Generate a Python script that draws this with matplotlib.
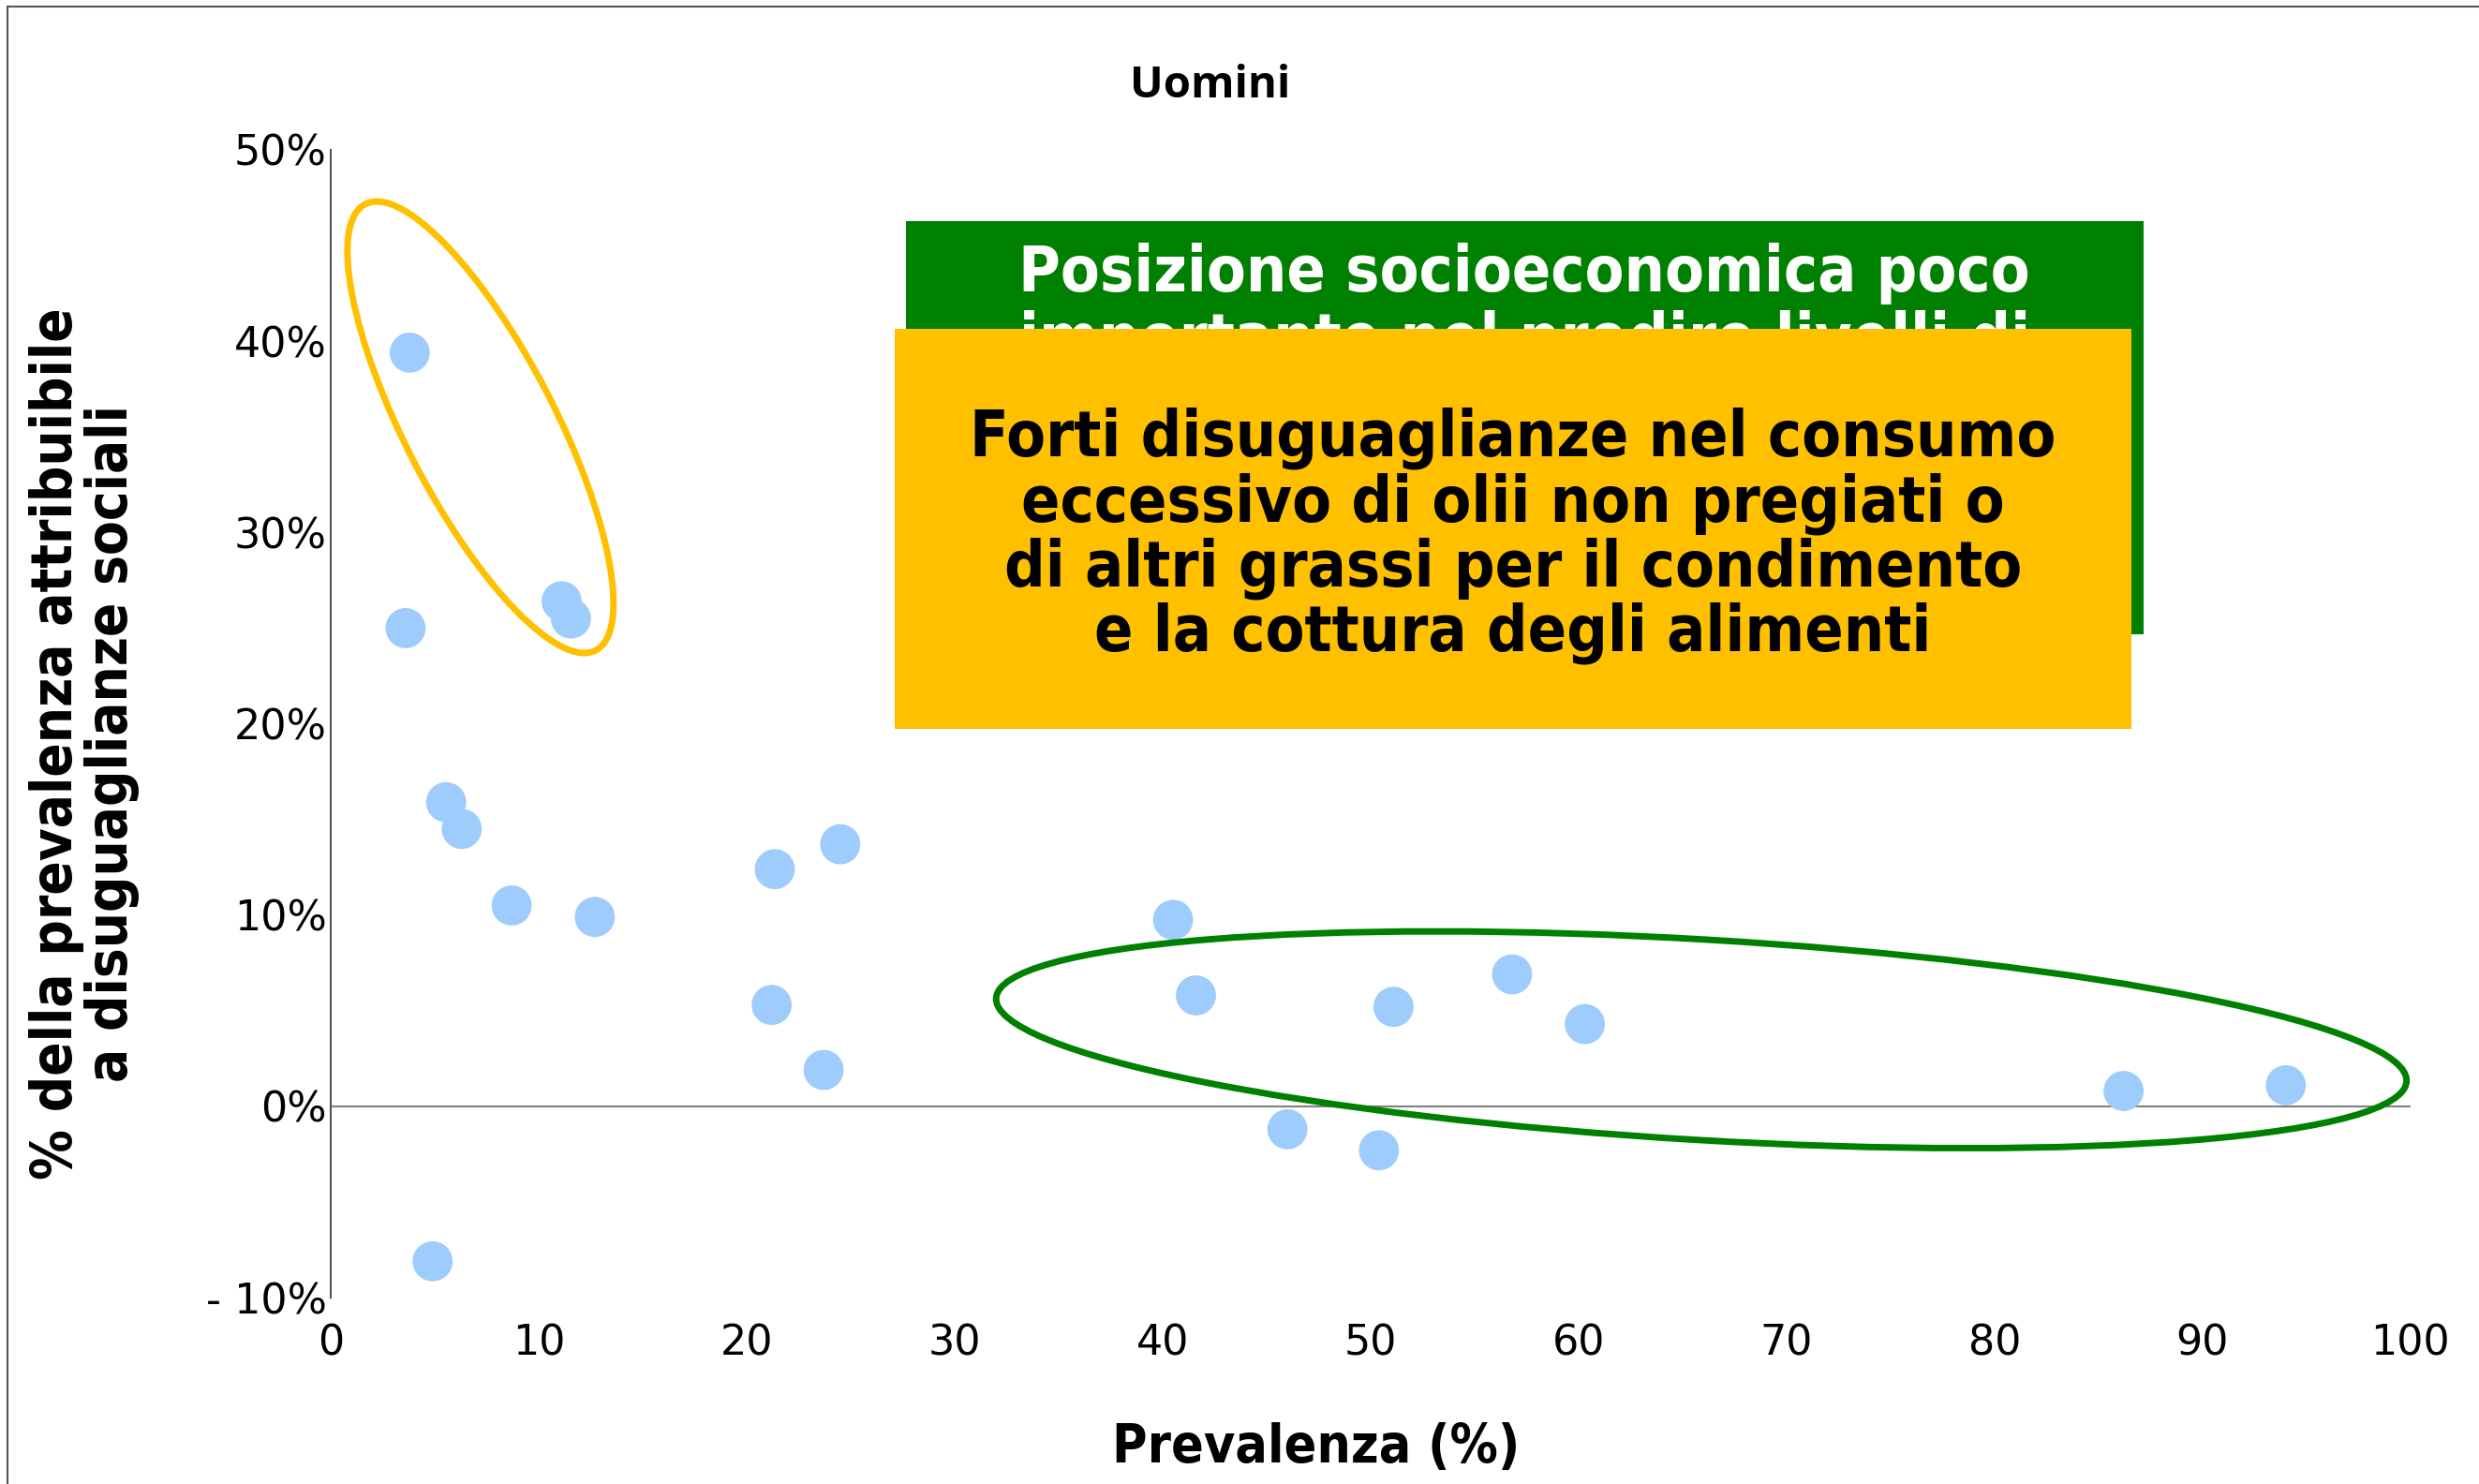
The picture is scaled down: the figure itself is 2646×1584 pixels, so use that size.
import numpy as np
import matplotlib
matplotlib.use("Agg")
import matplotlib.pyplot as plt
import matplotlib.transforms as mtransforms
from matplotlib.patches import Ellipse, Rectangle
from matplotlib.ticker import FuncFormatter

# prevalence (%) vs share of prevalence attributable to social inequality (%)
prevalenza = [3.8, 3.6, 11.1, 11.55, 5.55, 6.3, 8.7, 12.7, 4.9,
              21.35, 24.5, 21.2, 23.7, 40.5, 41.6, 51.1, 56.8, 60.3,
              46.0, 50.4, 86.2, 94.0]
quota_disug = [39.4, 25.0, 26.4, 25.5, 15.9, 14.5, 10.5, 9.9, -8.1,
               12.4, 13.7, 5.3, 1.9, 9.75, 5.8, 5.2, 6.9, 4.3,
               -1.2, -2.3, 0.8, 1.1]

x_ticks = [0, 10, 20, 30, 40, 50, 60, 70, 80, 90, 100]
y_ticks = [-10, 0, 10, 20, 30, 40, 50]

titolo = "Uomini"
xlab = "Prevalenza (%)"
ylab = "% della prevalenza attribuibile\na disuguaglianze sociali"
testo_verde = "Posizione socioeconomica poco\nimportante nel predire livelli di"
testo_giallo = ("Forti disuguaglianze nel consumo\n"
                "eccessivo di olii non pregiati o\n"
                "di altri grassi per il condimento\n"
                "e la cottura degli alimenti")

VERDE = "#008000"
GIALLO = "#FFC000"
PUNTI = "#9ECCFC"
cond = dict(family="DejaVu Sans", fontstretch="condensed", fontweight="bold")

fig = plt.figure(figsize=(26.46, 15.84), dpi=100)
ax = fig.add_axes([0.1334, 0.1256, 0.8390, 0.7734])

ax.scatter(prevalenza, quota_disug, s=950, color=PUNTI, edgecolors="none", zorder=3)
ax.axhline(0, color="#808080", lw=1.5, zorder=1)

ax.set_xlim(0, 100)
ax.set_ylim(-10, 50)
ax.set_xticks(x_ticks)
ax.set_yticks(y_ticks)
ax.yaxis.set_major_formatter(FuncFormatter(
    lambda v, p: f"- {abs(v):.0f}%" if v < 0 else f"{v:.0f}%"))
ax.tick_params(axis="x", length=0, pad=20, labelsize=32)
ax.tick_params(axis="y", length=0, pad=3, labelsize=32)
for s in ["top", "right", "bottom"]:
    ax.spines[s].set_visible(False)
ax.spines["left"].set_color("#555555")
ax.spines["left"].set_linewidth(1.5)

# ellipses sized in pixels, anchored at a data point
def cerchio(cx, cy, w, h, ang, col):
    tr = mtransforms.Affine2D() + mtransforms.ScaledTranslation(cx, cy, ax.transData)
    e = Ellipse((0, 0), w, h, angle=ang, transform=tr, fill=False,
                edgecolor=col, lw=5, clip_on=False, zorder=4)
    ax.add_patch(e)

cerchio(7.2, 35.5, 536, 160, -62.7, GIALLO)
cerchio(65.9, 3.48, 1508, 214, -3.38, VERDE)

# annotation boxes
fig.patches.append(Rectangle((0.3655, 0.5726), 0.4992, 0.2784, transform=fig.transFigure,
                             facecolor=VERDE, edgecolor="none", zorder=5))
fig.text(0.615, 0.793, testo_verde, color="white", fontsize=49, ha="center", va="center",
         linespacing=1.12, zorder=6, **cond)
fig.patches.append(Rectangle((0.3609, 0.5088), 0.4989, 0.2696, transform=fig.transFigure,
                             facecolor=GIALLO, edgecolor="none", zorder=7))
fig.text(0.6104, 0.639, testo_giallo, color="black", fontsize=49, ha="center", va="center",
         linespacing=1.05, zorder=8, **cond)

fig.text(0.488, 0.942, titolo, fontsize=34, fontweight="bold", family="Open Sans",
         ha="center", va="center")
fig.text(0.531, 0.024, xlab, fontsize=41, ha="center", va="center", **cond)
fig.text(0.034, 0.499, ylab, fontsize=43, rotation=90, ha="center", va="center",
         linespacing=1.0, **cond)

# thin frame round the figure
fig.patches.append(Rectangle((0.003, -0.01), 1.01, 1.0056, transform=fig.transFigure,
                             fill=False, edgecolor="#555555", lw=1.5))

fig.savefig("out.png", dpi=100)
